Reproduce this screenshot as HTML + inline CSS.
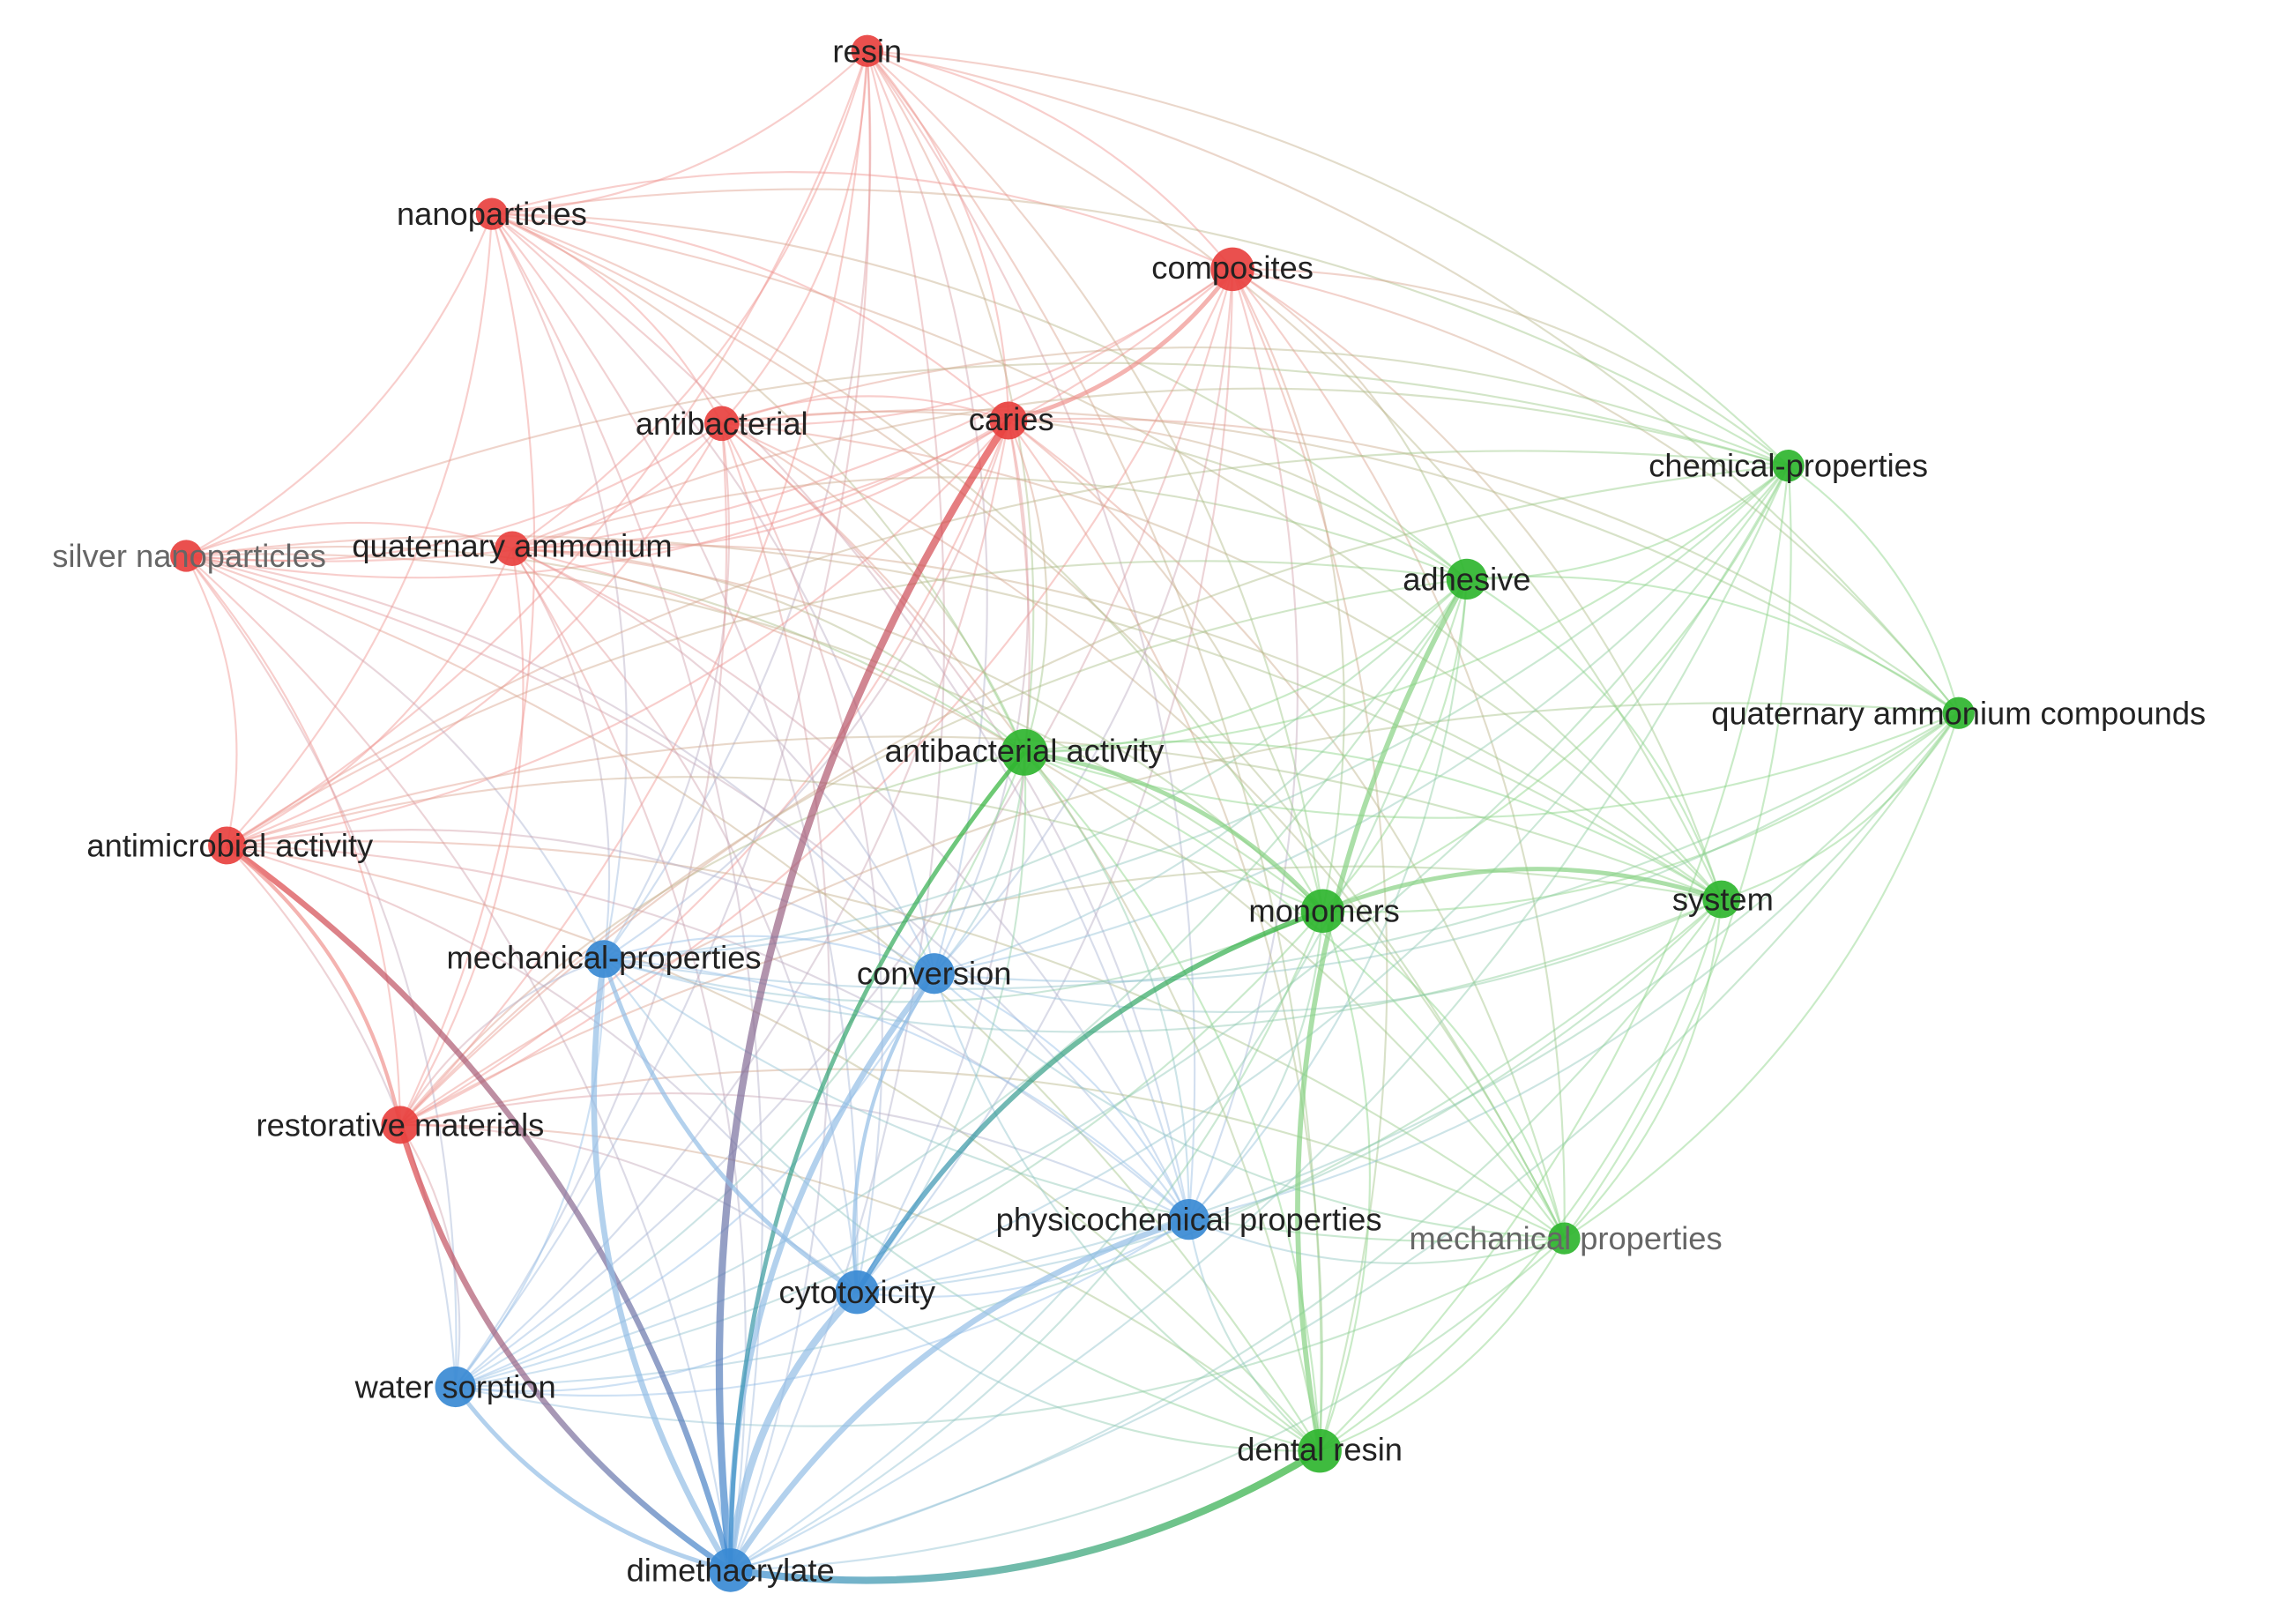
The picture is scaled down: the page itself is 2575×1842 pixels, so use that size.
<!DOCTYPE html>
<html><head><meta charset="utf-8"><style>
html,body{margin:0;padding:0;background:#fff;width:2575px;height:1842px;overflow:hidden}
svg{display:block}
text{font-family:"Liberation Sans","DejaVu Sans",sans-serif;font-size:22px;fill:#222;text-anchor:middle;dominant-baseline:central}
</style></head><body>
<svg id="s" width="2575" height="1842" viewBox="0 0 1560 1116" preserveAspectRatio="none">
<defs id="d"></defs>
<g id="e"></g>
<g id="n"></g>
<g id="t">
<text x="596" y="35">resin</text>
<text x="338" y="147">nanoparticles</text>
<text x="847" y="184">composites</text>
<text x="496" y="291">antibacterial</text>
<text x="695" y="288">caries</text>
<text x="130" y="382" style="fill:#666">silver nanoparticles</text>
<text x="352" y="375">quaternary ammonium</text>
<text x="158" y="581">antimicrobial activity</text>
<text x="275" y="773">restorative materials</text>
<text x="1229" y="320">chemical-properties</text>
<text x="1008" y="398">adhesive</text>
<text x="1346" y="490">quaternary ammonium compounds</text>
<text x="704" y="516">antibacterial activity</text>
<text x="910" y="626">monomers</text>
<text x="1184" y="618">system</text>
<text x="1076" y="851" style="fill:#666">mechanical properties</text>
<text x="907" y="996">dental resin</text>
<text x="415" y="658">mechanical-properties</text>
<text x="642" y="669">conversion</text>
<text x="817" y="838">physicochemical properties</text>
<text x="589" y="888">cytotoxicity</text>
<text x="313" y="953">water sorption</text>
<text x="502" y="1079">dimethacrylate</text>
</g>
</svg>
<script>
var R='#e8413f',G='#2fb52f',B='#3a8ad4';
var ER='#f0938e',EG='#88d283',EB='#93bde6';
var N={
resin:[596,35,R,11],nano:[338,147,R,11],comp:[847,185,R,15],antib:[496,291,R,12],caries:[693,289,R,13],
silver:[128,382,R,11],qa:[352,377,R,12],antim:[156,581,R,13],rest:[275,773,R,13],
chem:[1229,320,G,11],adh:[1008,398,G,14],qac:[1346,490,G,11],aa:[704,517,G,16],mono:[909,626,G,15],
sys:[1183,618,G,13],mp:[1075,851,G,11],dr:[907,997,G,15],
mech:[415,659,B,13],conv:[642,669,B,14],phys:[817,838,B,14],cyto:[589,888,B,15],ws:[313,953,B,14],dim:[502,1079,B,15]};
var ec={};ec[R]=ER;ec[G]=EG;ec[B]=EB;
var keys=Object.keys(N),e=document.getElementById('e'),d=document.getElementById('d'),ns='http://www.w3.org/2000/svg';
var thick={'dim-caries':5,'antim-dim':4,'dim-rest':4,'dr-dim':5,'dim-cyto':5,'dim-mech':4,'dim-conv':4,'dim-phys':4,'dim-aa':3,
'cyto-mono':3.5,'dr-adh':3.5,'dim-ws':3,'cyto-mech':3,'cyto-conv':2.5,'comp-caries':3,'antim-rest':2.5,'aa-mono':3,'mono-sys':3};
var gi=0;
function edge(a,b,w,op){
 var A=N[a],Bn=N[b];var x1=A[0],y1=A[1],x2=Bn[0],y2=Bn[1];
 var dx=x2-x1,dy=y2-y1;var mx=(x1+x2)/2+dy*0.18,my=(y1+y2)/2-dx*0.18;
 var p=document.createElementNS(ns,'path');
 p.setAttribute('d','M'+x1+' '+y1+'Q'+mx+' '+my+' '+x2+' '+y2);
 var c1=ec[A[2]],c2=ec[Bn[2]],stroke=c1;
 if(w>2){c1=A[2];c2=Bn[2];}
 if(c1!=c2){var g=document.createElementNS(ns,'linearGradient');g.id='g'+(gi++);
  g.setAttribute('gradientUnits','userSpaceOnUse');g.setAttribute('x1',x1);g.setAttribute('y1',y1);g.setAttribute('x2',x2);g.setAttribute('y2',y2);
  g.innerHTML='<stop offset="0" stop-color="'+c1+'"/><stop offset="1" stop-color="'+c2+'"/>';d.appendChild(g);stroke='url(#'+g.id+')';}
 p.setAttribute('stroke',stroke);p.setAttribute('stroke-width',w);p.setAttribute('fill','none');p.setAttribute('stroke-opacity',op);
 e.appendChild(p);}
for(var i=0;i<keys.length;i++)for(var j=i+1;j<keys.length;j++){
 var a=keys[i],b=keys[j];var k1=a+'-'+b,k2=b+'-'+a;
 if(thick[k1]||thick[k2])continue;
 var A=N[a],Bn=N[b];var dist=Math.hypot(A[0]-Bn[0],A[1]-Bn[1]);
 if(dist>1150)continue;
 if(((i*7+j*13)%5)==0)continue;
 edge(a,b,1.3,0.45);}
for(var k in thick){var p=k.split('-');edge(p[0],p[1],thick[k],0.7);}
var n=document.getElementById('n');
keys.forEach(function(k){var c=document.createElementNS(ns,'circle');var v=N[k];
 c.setAttribute('cx',v[0]);c.setAttribute('cy',v[1]);c.setAttribute('r',v[3]);c.setAttribute('fill',v[2]);c.setAttribute('fill-opacity',0.92);n.appendChild(c);});
</script>
</body></html>
